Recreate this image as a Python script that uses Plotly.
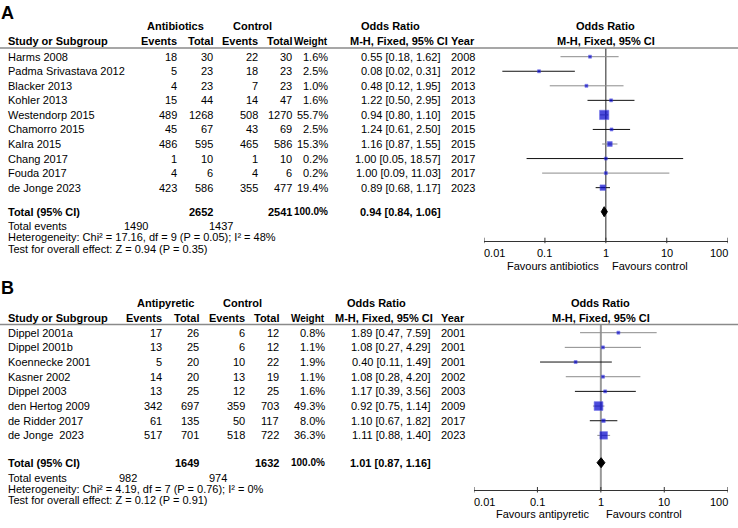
import math
import plotly.graph_objects as go

# ---------------- Panel A data ----------------
a_studies = ["Harms 2008", "Padma Srivastava 2012", "Blacker 2013", "Kohler 2013",
             "Westendorp 2015", "Chamorro 2015", "Kalra 2015", "Chang 2017",
             "Fouda 2017", "de Jonge 2023"]
a_ev_t = [18, 5, 4, 15, 489, 45, 486, 1, 4, 423]
a_tot_t = [30, 23, 23, 44, 1268, 67, 595, 10, 6, 586]
a_ev_c = [22, 18, 7, 14, 508, 43, 465, 1, 4, 355]
a_tot_c = [30, 23, 23, 47, 1270, 69, 586, 10, 6, 477]
a_weight = [1.6, 2.5, 1.0, 1.6, 55.7, 2.5, 15.3, 0.2, 0.2, 19.4]
a_or = [0.55, 0.08, 0.48, 1.22, 0.94, 1.24, 1.16, 1.00, 1.00, 0.89]
a_lo = [0.18, 0.02, 0.12, 0.50, 0.80, 0.61, 0.87, 0.05, 0.09, 0.68]
a_hi = [1.62, 0.31, 1.95, 2.95, 1.10, 2.50, 1.55, 18.57, 11.03, 1.17]
a_year = [2008, 2012, 2013, 2013, 2015, 2015, 2015, 2017, 2017, 2023]
a_total_n = [2652, 2541]
a_total_weight = 100.0
a_total_events = [1490, 1437]
a_pooled = [0.94, 0.84, 1.06]
a_het = [17.16, 9, 0.05, 48]      # Chi², df, P, I²
a_test = [0.94, 0.35]             # Z, P
a_groups = ["Antibiotics", "Control"]
a_favours = ["Favours antibiotics", "Favours control"]

# ---------------- Panel B data ----------------
b_studies = ["Dippel 2001a", "Dippel 2001b", "Koennecke 2001", "Kasner 2002",
             "Dippel 2003", "den Hertog 2009", "de Ridder 2017", "de Jonge\u00a0 2023"]
b_ev_t = [17, 13, 5, 14, 13, 342, 61, 517]
b_tot_t = [26, 25, 20, 20, 25, 697, 135, 701]
b_ev_c = [6, 6, 10, 13, 12, 359, 50, 518]
b_tot_c = [12, 12, 22, 19, 25, 703, 117, 722]
b_weight = [0.8, 1.1, 1.9, 1.1, 1.6, 49.3, 8.0, 36.3]
b_or = [1.89, 1.08, 0.40, 1.08, 1.17, 0.92, 1.10, 1.11]
b_lo = [0.47, 0.27, 0.11, 0.28, 0.39, 0.75, 0.67, 0.88]
b_hi = [7.59, 4.29, 1.49, 4.20, 3.56, 1.14, 1.82, 1.40]
b_year = [2001, 2001, 2001, 2002, 2003, 2009, 2017, 2023]
b_total_n = [1649, 1632]
b_total_weight = 100.0
b_total_events = [982, 974]
b_pooled = [1.01, 0.87, 1.16]
b_het = [4.19, 7, 0.76, 0]
b_test = [0.12, 0.91]
b_groups = ["Antipyretic", "Control"]
b_favours = ["Favours antipyretic", "Favours control"]

axis_ticks = [0.01, 0.1, 1, 10, 100]
axis_ticktext = ["0.01", "0.1", "1", "10", "100"]

# ---------------- Layout / style ----------------
W, H = 738, 528
FONT = "'Liberation Sans', Arial, Helvetica, sans-serif"
BLUE = "#0000CC"

layout_a = dict(xa="x", label="A", label_y=12.5, group_y=26, head_y=41, line_y=48,
                row0=56.7, dy=14.55, total_y=211.7, events_y=226.3, het_y=237.4,
                test_y=248.8, axis_y=240.7, tick_y=253, fav_y=266,
                c_study=8.3, c_evt=177, c_tott=213, c_evc=258, c_totc=292, c_w=328,
                c_or=441, c_year=451, g_t=175, g_c=252.5, or_head=390.5, mh_head=398.5,
                year_head=451, ev_t=148, ev_c=233, fav_l=7, fav_r=6,
                dom=[484, 727.7], vline="#222222", vline_w=1,
                shades=["#8c8c8c", "#111111"] * 5)
layout_b = dict(xa="x2", label="B", label_y=287.5, group_y=303, head_y=318, line_y=324.5,
                row0=332.7, dy=14.67, total_y=462.7, events_y=477.5, het_y=488.5,
                test_y=500, axis_y=490, tick_y=501.7, fav_y=514,
                c_study=8.3, c_evt=162, c_tott=199.3, c_evc=245, c_totc=279.3, c_w=325,
                c_or=431, c_year=441, g_t=165, g_c=242, or_head=376, mh_head=384,
                year_head=441, ev_t=137, ev_c=227, fav_l=12, fav_r=5.5,
                dom=[474, 727.7], vline="#999999", vline_w=2,
                shades=["#8c8c8c", "#8c8c8c", "#111111", "#8c8c8c", "#111111",
                        "#8c8c8c", "#111111", "#8c8c8c"])

fig = go.Figure()
annos = []
shapes = []


def txt(x, y, s, anchor="left", bold=False, size=11, xref="paper", xshift=0):
    annos.append(dict(
        x=(x / W) if xref == "paper" else x, y=y, xref=xref, yref="y",
        text=f"<b>{s}</b>" if bold else s, showarrow=False,
        xanchor=anchor, yanchor="middle", xshift=xshift,
        font=dict(family=FONT, size=size, color="#000000"),
        borderpad=0, borderwidth=0))


def panel(L, studies, ev_t, tot_t, ev_c, tot_c, weight, orr, lo, hi, year,
          total_n, total_weight, total_events, pooled, het, test, groups, favours):
    xa = L["xa"]
    # titles and headers
    txt(1, L["label_y"], L["label"], bold=True, size=18)
    txt(L["g_t"], L["group_y"], groups[0], anchor="center", bold=True)
    txt(L["g_c"], L["group_y"], groups[1], anchor="center", bold=True)
    txt(L["or_head"], L["group_y"], "Odds Ratio", anchor="center", bold=True)
    txt(L["c_study"], L["head_y"], "Study or Subgroup", bold=True)
    txt(L["c_evt"], L["head_y"], "Events", anchor="right", bold=True)
    txt(L["c_tott"], L["head_y"], "Total", anchor="right", bold=True)
    txt(L["c_evc"], L["head_y"], "Events", anchor="right", bold=True)
    txt(L["c_totc"], L["head_y"], "Total", anchor="right", bold=True)
    txt(L["c_w"], L["head_y"], "Weight", anchor="right", bold=True, size=10)
    txt(L["mh_head"], L["head_y"], "M-H, Fixed, 95% CI", anchor="center", bold=True)
    txt(L["year_head"], L["head_y"], "Year", bold=True)
    txt(0, L["group_y"], "Odds Ratio", anchor="center", bold=True, xref=xa)
    txt(0, L["head_y"], "M-H, Fixed, 95% CI", anchor="center", bold=True, xref=xa)
    shapes.append(dict(type="line", xref="paper", yref="y", x0=0, x1=1,
                       y0=L["line_y"], y1=L["line_y"],
                       line=dict(color="#8a8a8a", width=1.5)))

    ys = [L["row0"] + i * L["dy"] for i in range(len(studies))]
    for i, y in enumerate(ys):
        txt(L["c_study"], y, studies[i])
        txt(L["c_evt"], y, str(ev_t[i]), anchor="right")
        txt(L["c_tott"], y, str(tot_t[i]), anchor="right")
        txt(L["c_evc"], y, str(ev_c[i]), anchor="right")
        txt(L["c_totc"], y, str(tot_c[i]), anchor="right")
        txt(L["c_w"], y, f"{weight[i]:.1f}%", anchor="right")
        txt(L["c_or"], y, f"{orr[i]:.2f} [{lo[i]:.2f}, {hi[i]:.2f}]", anchor="right")
        txt(L["c_year"], y, str(year[i]))

    # vertical reference line at OR = 1
    fig.add_trace(go.Scatter(x=[1, 1], y=[L["line_y"], L["axis_y"]], mode="lines",
                             line=dict(color=L["vline"], width=L["vline_w"]),
                             xaxis=xa, yaxis="y", hoverinfo="skip", showlegend=False))
    # confidence intervals
    for i, y in enumerate(ys):
        fig.add_trace(go.Scatter(x=[lo[i], hi[i]], y=[y, y], mode="lines",
                                 line=dict(color=L["shades"][i], width=1),
                                 xaxis=xa, yaxis="y", hoverinfo="skip", showlegend=False))
    # weighted squares
    sizes = [max(3, 1.25 * math.sqrt(w)) for w in weight]
    fig.add_trace(go.Scatter(x=orr, y=ys, mode="markers",
                             marker=dict(symbol="square", size=sizes, color=BLUE,
                                         line=dict(color="#3a3ae0", width=0.6)),
                             xaxis=xa, yaxis="y", hoverinfo="skip", showlegend=False))
    # pooled diamond
    ty = L["total_y"]
    est, plo, phi = pooled
    fig.add_trace(go.Scatter(x=[plo, est, phi, est, plo], y=[ty, ty - 5, ty, ty + 5, ty],
                             mode="lines", fill="toself", fillcolor="#000000",
                             line=dict(color="#000000", width=1),
                             xaxis=xa, yaxis="y", hoverinfo="skip", showlegend=False))

    # totals
    txt(L["c_study"], ty, "Total (95% CI)", bold=True)
    txt(L["c_tott"], ty, str(total_n[0]), anchor="right", bold=True)
    txt(L["c_totc"], ty, str(total_n[1]), anchor="right", bold=True)
    txt(L["c_w"], ty, f"{total_weight:.1f}%", anchor="right", bold=True, size=10)
    txt(L["c_or"], ty, f"{est:.2f} [{plo:.2f}, {phi:.2f}]", anchor="right", bold=True)
    txt(L["c_study"], L["events_y"], "Total events")
    txt(L["ev_t"], L["events_y"], str(total_events[0]), anchor="right")
    txt(L["ev_c"], L["events_y"], str(total_events[1]), anchor="right")
    txt(L["c_study"], L["het_y"],
        f"Heterogeneity: Chi² = {het[0]:.2f}, df = {het[1]} (P = {het[2]:.2f}); I² = {het[3]}%")
    txt(L["c_study"], L["test_y"],
        f"Test for overall effect: Z = {test[0]:.2f} (P = {test[1]:.2f})")

    # axis tick marks (crossing the axis line)
    tx, ty2 = [], []
    for v in axis_ticks:
        tx += [v, v, None]
        ty2 += [L["axis_y"] - 3, L["axis_y"] + 2.5, None]
    fig.add_trace(go.Scatter(x=tx, y=ty2, mode="lines", line=dict(color="#333333", width=1),
                             xaxis=xa, yaxis="y", hoverinfo="skip", showlegend=False))
    for k, (v, t) in enumerate(zip(axis_ticks, axis_ticktext)):
        anc = "left" if k == 0 else ("right" if k == len(axis_ticks) - 1 else "center")
        txt(math.log10(v), L["tick_y"], t, anchor=anc, xref=xa)
    txt(0, L["fav_y"], favours[0], anchor="right", xref=xa, xshift=-L["fav_l"])
    txt(0, L["fav_y"], favours[1], anchor="left", xref=xa, xshift=L["fav_r"])


panel(layout_a, a_studies, a_ev_t, a_tot_t, a_ev_c, a_tot_c, a_weight, a_or, a_lo, a_hi,
      a_year, a_total_n, a_total_weight, a_total_events, a_pooled, a_het, a_test,
      a_groups, a_favours)
panel(layout_b, b_studies, b_ev_t, b_tot_t, b_ev_c, b_tot_c, b_weight, b_or, b_lo, b_hi,
      b_year, b_total_n, b_total_weight, b_total_events, b_pooled, b_het, b_test,
      b_groups, b_favours)


def xaxis_cfg(L):
    return dict(type="log", range=[-2, 2], domain=[L["dom"][0] / W, L["dom"][1] / W],
                anchor="free", position=1 - L["axis_y"] / H,
                showline=True, linecolor="#333333", linewidth=1,
                showgrid=False, zeroline=False, ticks="", showticklabels=False,
                fixedrange=True)


fig.update_layout(
    width=W, height=H, margin=dict(l=0, r=0, t=0, b=0),
    paper_bgcolor="white", plot_bgcolor="rgba(0,0,0,0)",
    showlegend=False,
    xaxis=xaxis_cfg(layout_a),
    xaxis2=xaxis_cfg(layout_b),
    yaxis=dict(range=[H, 0], domain=[0, 1], visible=False, fixedrange=True),
    annotations=annos, shapes=shapes,
    font=dict(family=FONT, size=11, color="#000000"),
)

fig.write_html("out.html", config={"displayModeBar": False},
               post_script="document.body.style.margin='0';document.body.style.padding='0';")
